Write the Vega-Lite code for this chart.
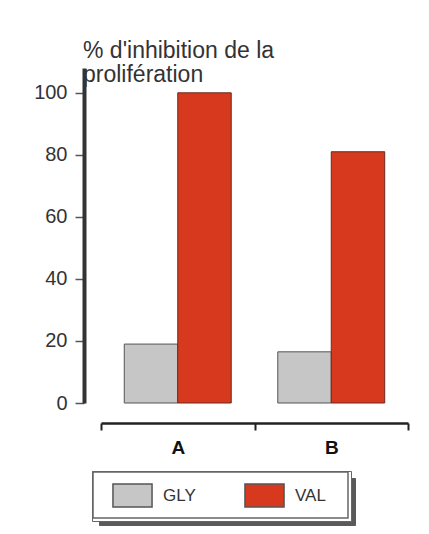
{
  "$schema": "https://vega.github.io/schema/vega-lite/v6.json",
  "autosize": "none",
  "width": 307,
  "height": 335,
  "padding": {"left": 101, "top": 68, "right": 21, "bottom": 131},
  "background": "white",
  "title": {
    "text": ["% d'inhibition de la", "prolifération"],
    "anchor": "start",
    "frame": "group",
    "orient": "top",
    "dx": -18,
    "dy": 19,
    "offset": 0,
    "font": "Liberation Sans",
    "fontSize": 23,
    "fontWeight": "normal",
    "lineHeight": 24,
    "color": "#333333"
  },
  "data": {
    "values": [
      {"groupe": "A", "serie": "GLY", "ombre": "GLY", "cadre": "GLY", "valeur": 19},
      {"groupe": "A", "serie": "VAL", "ombre": "VAL", "cadre": "VAL", "valeur": 100},
      {"groupe": "B", "serie": "GLY", "ombre": "GLY", "cadre": "GLY", "valeur": 16.5},
      {"groupe": "B", "serie": "VAL", "ombre": "VAL", "cadre": "VAL", "valeur": 81}
    ]
  },
  "mark": {"type": "bar", "strokeWidth": 1},
  "encoding": {
    "x": {
      "field": "groupe",
      "type": "nominal",
      "scale": {"paddingInner": 0, "paddingOuter": 0},
      "axis": {
        "title": null,
        "offset": 20,
        "tickBand": "extent",
        "domainColor": "#222222",
        "domainWidth": 2.5,
        "tickColor": "#222222",
        "tickWidth": 2,
        "tickSize": 7,
        "labelAngle": 0,
        "labelFont": "Liberation Sans",
        "labelFontSize": 19,
        "labelFontWeight": "bold",
        "labelColor": "#111111",
        "labelPadding": 8
      }
    },
    "xOffset": {
      "field": "serie",
      "type": "nominal",
      "scale": {"paddingInner": 0, "paddingOuter": 0.435}
    },
    "y": {
      "field": "valeur",
      "type": "quantitative",
      "scale": {"domain": [0, 108], "nice": false},
      "axis": {
        "title": null,
        "offset": 17,
        "values": [0, 20, 40, 60, 80, 100],
        "grid": false,
        "domainColor": "#333333",
        "domainWidth": 4,
        "tickColor": "#555555",
        "tickWidth": 1.5,
        "tickSize": 9,
        "labelFont": "Liberation Sans",
        "labelFontSize": 20,
        "labelColor": "#333333",
        "labelPadding": 8
      }
    },
    "fill": {
      "field": "serie",
      "type": "nominal",
      "scale": {"domain": ["GLY", "VAL"], "range": ["#c6c6c6", "#d7391f"]},
      "legend": {
        "title": null,
        "orient": "none",
        "legendX": -9,
        "legendY": 403,
        "direction": "horizontal",
        "fillColor": "transparent",
        "strokeColor": "transparent",
        "padding": 12,
        "symbolType": "M-1.7,-1L1.7,-1L1.7,1L-1.7,1Z",
        "symbolSize": 529,
        "symbolOffset": 16,
        "symbolStrokeColor": "#555555",
        "symbolStrokeWidth": 1.5,
        "labelFont": "Liberation Sans",
        "labelFontSize": 17,
        "labelColor": "#333333",
        "labelOffset": 18,
        "columnPadding": 40,
        "zindex": 3
      }
    },
    "opacity": {
      "field": "cadre",
      "type": "nominal",
      "scale": {"range": [1, 1]},
      "legend": {
        "title": null,
        "orient": "none",
        "legendX": -9,
        "legendY": 403,
        "values": ["GLY"],
        "labelExpr": "''",
        "direction": "horizontal",
        "fillColor": "white",
        "strokeColor": "#666666",
        "padding": 0,
        "symbolType": "M-5.543,-1L5.543,-1L5.543,1L-5.543,1Z",
        "symbolSize": 2116,
        "symbolOffset": 104.5,
        "symbolFillColor": "white",
        "symbolStrokeColor": "#666666",
        "symbolStrokeWidth": 1.5,
        "labelFontSize": 17,
        "labelOffset": 0,
        "zindex": 2
      }
    },
    "stroke": {
      "field": "ombre",
      "type": "nominal",
      "scale": {"domain": ["VAL", "GLY"], "range": ["#6a2a1e", "#555555"]},
      "legend": {
        "title": null,
        "orient": "none",
        "legendX": -2,
        "legendY": 410,
        "values": ["GLY"],
        "labelExpr": "''",
        "direction": "horizontal",
        "fillColor": "#5a5a5a",
        "strokeColor": "#5a5a5a",
        "padding": 0,
        "symbolType": "M-5.543,-1L5.543,-1L5.543,1L-5.543,1Z",
        "symbolSize": 2116,
        "symbolOffset": 104.5,
        "symbolOpacity": 0,
        "labelFontSize": 17,
        "labelOffset": 0,
        "zindex": 1
      }
    }
  },
  "config": {
    "view": {"stroke": null}
  }
}
